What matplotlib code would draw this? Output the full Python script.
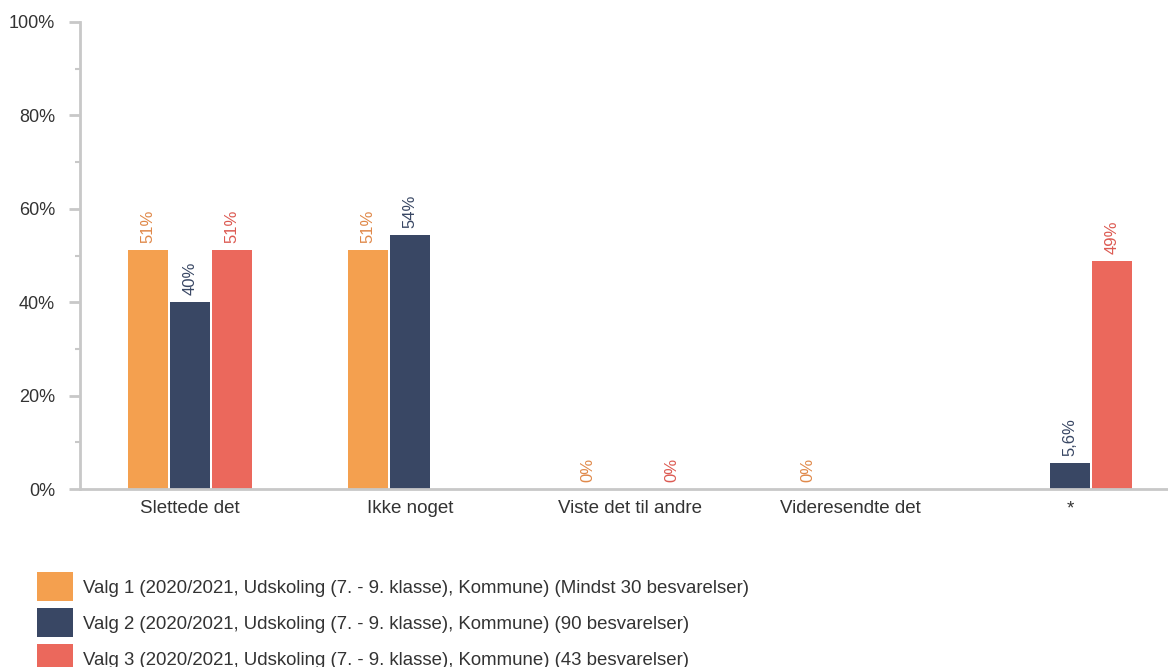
import numpy as np
import matplotlib
matplotlib.use("Agg")
import matplotlib.pyplot as plt
from matplotlib.patches import Rectangle
from matplotlib.ticker import MultipleLocator, FuncFormatter

plt.rcParams['font.family'] = ['Liberation Sans', 'DejaVu Sans']

categories = ["Slettede det", "Ikke noget", "Viste det til andre", "Videresendte det", "*"]
valg1 = [51.2, 51.2, 0.0, 0.0, np.nan]
valg2 = [40.0, 54.4, np.nan, np.nan, 5.6]
valg3 = [51.2, np.nan, 0.0, np.nan, 48.8]
series_labels = [
    "Valg 1 (2020/2021, Udskoling (7. - 9. klasse), Kommune) (Mindst 30 besvarelser)",
    "Valg 2 (2020/2021, Udskoling (7. - 9. klasse), Kommune) (90 besvarelser)",
    "Valg 3 (2020/2021, Udskoling (7. - 9. klasse), Kommune) (43 besvarelser)",
]
bar_colors = ["#F4A04F", "#394764", "#EB685C"]
text_colors = ["#E0894A", "#394764", "#DC5A52"]

W, H = 1168, 667
fig = plt.figure(figsize=(W / 100, H / 100), dpi=100)
ax = fig.add_axes([80/W, 1 - 489/H, (1180 - 80)/W, (489 - 22)/H])

x = np.arange(len(categories))
width = 0.186
offset = 0.191

def fmt(v):
    if v == 0:
        return "0%"
    if v < 10:
        return f"{v:.1f}".replace(".", ",") + "%"
    return f"{v:.0f}%"

for i, (vals, bc, tc) in enumerate(zip([valg1, valg2, valg3], bar_colors, text_colors)):
    pos = x + (i - 1) * offset
    vals = np.array(vals, dtype=float)
    ax.bar(pos, vals, width=width, color=bc, zorder=2)
    for p, v in zip(pos, vals):
        if np.isnan(v):
            continue
        ax.annotate(fmt(v), (p, v), xytext=(0, 5), textcoords="offset points",
                    rotation=90, ha="center", va="bottom", fontsize=12, color=tc)

ax.set_xlim(-0.5, 4.5)
ax.set_ylim(0, 100)
ax.yaxis.set_major_locator(MultipleLocator(20))
ax.yaxis.set_minor_locator(MultipleLocator(10))
ax.yaxis.set_major_formatter(FuncFormatter(lambda v, p: f"{v:.0f}%"))
ax.set_xticks(x)
ax.set_xticklabels(categories)

for s in ["top", "right"]:
    ax.spines[s].set_visible(False)
for s in ["left", "bottom"]:
    ax.spines[s].set_color("#C8C8C8")
    ax.spines[s].set_linewidth(2)
ax.tick_params(axis="y", which="major", length=8, width=2, color="#C8C8C8",
               labelsize=13, labelcolor="#333333", pad=10)
ax.tick_params(axis="y", which="minor", length=3.5, width=1.5, color="#C8C8C8")
ax.tick_params(axis="x", length=0, labelsize=13.5, labelcolor="#333333", pad=8)

# Legend (manual, bottom-left)
row_top0, pitch, box_h, box_w = 572, 36, 29, 36
for k, (lab, c) in enumerate(zip(series_labels, bar_colors)):
    top = row_top0 + k * pitch
    fig.patches.append(Rectangle((37 / W, 1 - (top + box_h) / H), box_w / W, box_h / H,
                                 transform=fig.transFigure, facecolor=c, edgecolor="none"))
    fig.text(83 / W, 1 - (top + box_h / 2) / H, lab, fontsize=13.4, color="#333333",
             ha="left", va="center_baseline")

fig.savefig("out.png", dpi=100)
